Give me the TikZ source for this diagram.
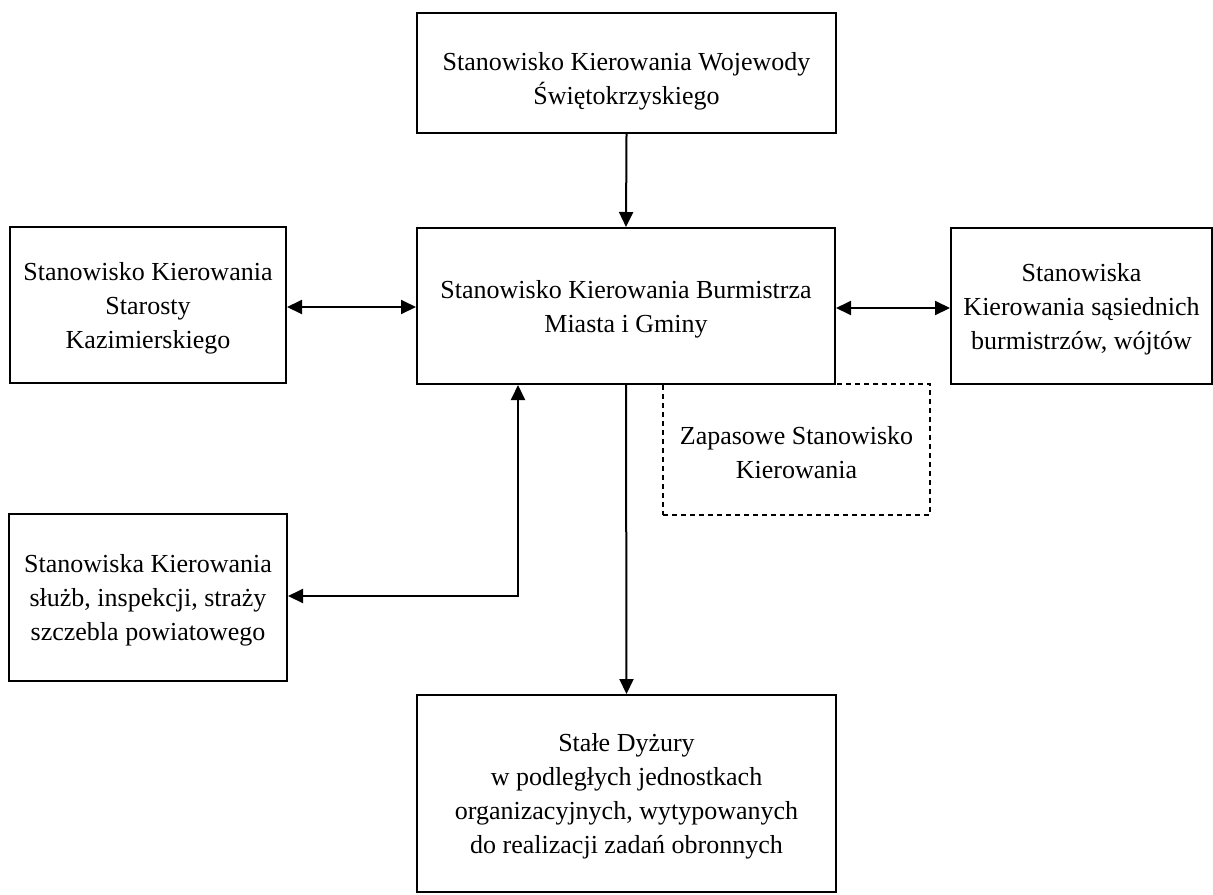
\documentclass[tikz,border=0pt]{standalone}
\usepackage{fontspec}
\setmainfont{Liberation Serif}
\usetikzlibrary{arrows.meta}
\tikzset{
  box/.style={draw, line width=1pt, rectangle, inner sep=0pt},
  dbox/.style={box, line width=0.7pt, dash pattern=on 2.5pt off 2pt},
  txt/.style={inner sep=0pt, align=center, font=\fontsize{13}{17}\selectfont},
  tip/.tip={Triangle[length=7.5pt,width=7pt]},
  conn/.style={line width=1pt, -tip},
  bconn/.style={line width=1pt, tip-tip}
}
\begin{document}
\begin{tikzpicture}[x=0.5pt,y=-0.5pt]
\useasboundingbox (0,0) rectangle (1213,894);
% dashed box first so the solid line lies on top
\node[dbox, minimum width=133.5pt, minimum height=65.5pt] (zap) at (796.5,449.5) {};
\node[box, minimum width=209.5pt, minimum height=60pt] (woj) at (626.5,73) {};
\node[box, minimum width=209pt, minimum height=78pt] (bur) at (626,306) {};
\node[box, minimum width=138pt, minimum height=78pt] (sta) at (148,305) {};
\node[box, minimum width=130.5pt, minimum height=78pt] (sas) at (1081.5,306) {};
\node[box, minimum width=139pt, minimum height=83.5pt] (slu) at (148,597.5) {};
\node[box, minimum width=209.5pt, minimum height=98.5pt] (dyz) at (626.5,793.5) {};

\node[txt] (zapt) at ([yshift=-1.5pt]zap.center) {Zapasowe Stanowisko\\Kierowania};
\node[txt] (wojt) at ([yshift=-4pt]woj.center) {Stanowisko Kierowania Wojewody\\Świętokrzyskiego};
\node[txt] (burt) at ([yshift=-1.5pt]bur.center) {Stanowisko Kierowania Burmistrza\\Miasta i Gminy};
\node[txt] (stat) at ([yshift=-1.5pt]sta.center) {Stanowisko Kierowania\\Starosty\\Kazimierskiego};
\node[txt] (sast) at ([yshift=-1.5pt]sas.center) {Stanowiska\\Kierowania sąsiednich\\burmistrzów, wójtów};
\node[txt] (slut) at ([yshift=-1.5pt]slu.center) {Stanowiska Kierowania\\służb, inspekcji, straży\\szczebla powiatowego};
\node[txt] (dyzt) at ([yshift=-1.5pt]dyz.center) {Stałe Dyżury\\w podległych jednostkach\\organizacyjnych, wytypowanych\\do realizacji zadań obronnych};

\draw[conn] (woj.south) -- (bur.north);
\draw[bconn] (sta.east |- 0,307) -- (bur.west |- 0,307);
\draw[bconn] (bur.east |- 0,308) -- (sas.west |- 0,308);
\coordinate (elb) at (518,596);
\draw[bconn] (elb |- bur.south) -- (elb) -- (elb -| slu.east);
\draw[conn] (bur.south) -- (dyz.north);
\end{tikzpicture}
\end{document}
